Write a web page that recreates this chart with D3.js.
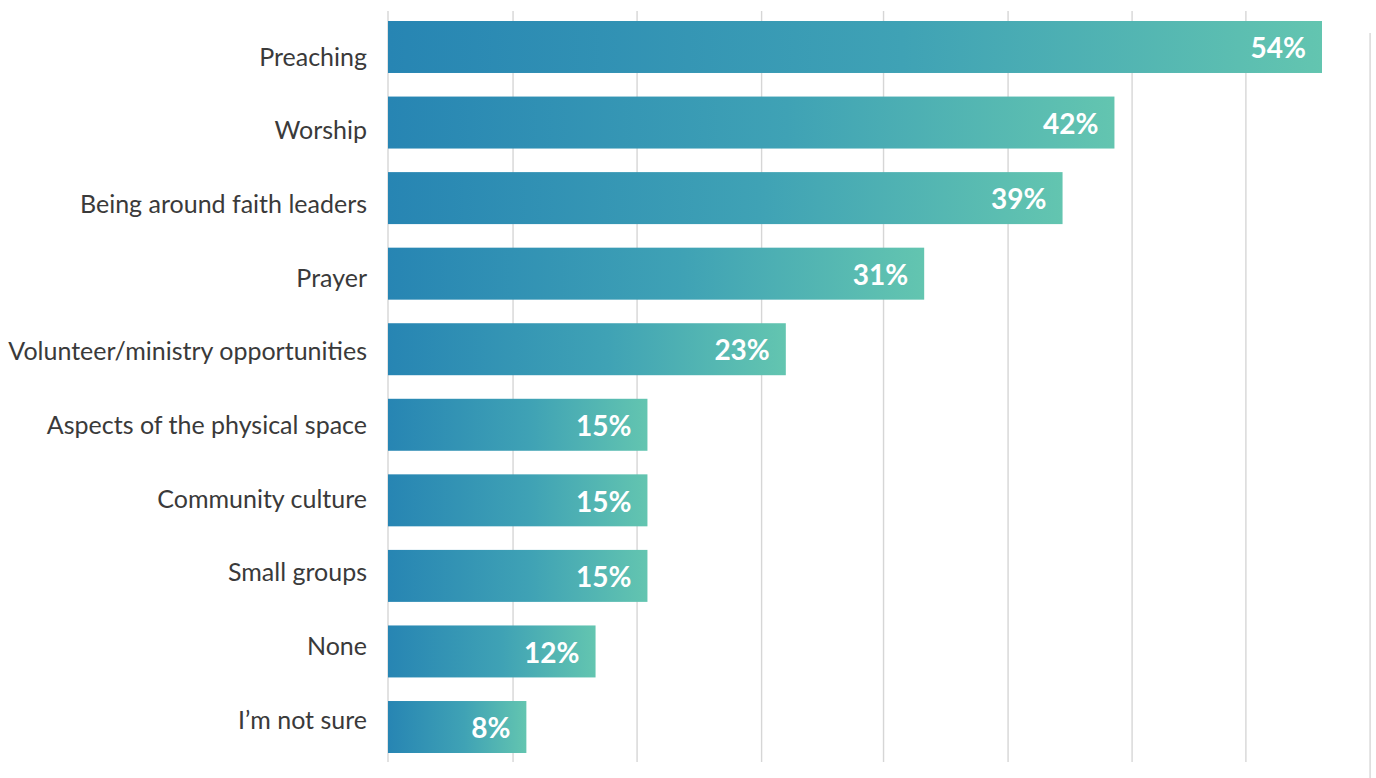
<!DOCTYPE html>
<html>
<head>
<meta charset="utf-8">
<script src="https://cdn.jsdelivr.net/npm/d3@7/dist/d3.min.js"></script>
<style>
  html, body { margin: 0; padding: 0; background: #ffffff; }
  svg { display: block; }
</style>
</head>
<body>
<svg id="chart" width="1376" height="778"></svg>
<script>
// Survey responses, share of respondents (%)
const categories = [
  "Preaching",
  "Worship",
  "Being around faith leaders",
  "Prayer",
  "Volunteer/ministry opportunities",
  "Aspects of the physical space",
  "Community culture",
  "Small groups",
  "None",
  "I\u2019m not sure"
];
const values = [54, 42, 39, 31, 23, 15, 15, 15, 12, 8];
// Vertical gridline positions, in the same % units as the bars
const gridValues = [0, 7.23, 14.4, 21.6, 28.65, 35.85, 43.02, 49.6];
const edgeGridValue = 56.78;

const svg = d3.select("#chart");

const x = d3.scaleLinear().domain([0, 54]).range([388, 1322]);

// Bars and their category labels sit on slightly different bands
const yBar = d3.scaleBand().domain(categories).range([21, 753])
  .paddingInner(0.312).paddingOuter(0);
const yLabel = d3.scaleBand().domain(categories).range([20.2, 756.8]).padding(0);

// Left-to-right fill applied to every bar
const defs = svg.append("defs");
const grad = defs.append("linearGradient")
  .attr("id", "barFill")
  .attr("x1", 0).attr("y1", 0).attr("x2", 1).attr("y2", 0);
grad.append("stop").attr("offset", "0%").attr("stop-color", "#2785b3");
grad.append("stop").attr("offset", "55%").attr("stop-color", "#3fa2b5");
grad.append("stop").attr("offset", "100%").attr("stop-color", "#63c5b0");

// Gridlines
svg.append("g").selectAll("line")
  .data(gridValues)
  .join("line")
  .attr("x1", d => x(d)).attr("x2", d => x(d))
  .attr("y1", 11).attr("y2", 762)
  .attr("stroke", "#d6d6d6")
  .attr("stroke-width", 1.4);

svg.append("line")
  .attr("x1", x(edgeGridValue)).attr("x2", x(edgeGridValue))
  .attr("y1", 33).attr("y2", 778)
  .attr("stroke", "#d6d6d6")
  .attr("stroke-width", 1.4);

// Bars
svg.append("g").selectAll("rect")
  .data(values)
  .join("rect")
  .attr("x", x(0))
  .attr("y", (d, i) => yBar(categories[i]))
  .attr("width", d => x(d) - x(0))
  .attr("height", yBar.bandwidth())
  .attr("fill", "url(#barFill)");

// Value labels inside bar ends
svg.append("g").selectAll("text")
  .data(values)
  .join("text")
  .attr("x", d => x(d) - 16)
  .attr("y", (d, i) => yBar(categories[i]) + yBar.bandwidth() / 2)
  .attr("dy", "0.4em")
  .attr("text-anchor", "end")
  .attr("fill", "#ffffff")
  .attr("font-family", "Lato, 'Open Sans', sans-serif")
  .attr("font-weight", 700)
  .attr("font-size", 28)
  .text(d => d + "%");

// Category labels
svg.append("g").selectAll("text")
  .data(categories)
  .join("text")
  .attr("x", 367)
  .attr("y", d => yLabel(d) + yLabel.bandwidth() / 2)
  .attr("dy", "0.35em")
  .attr("text-anchor", "end")
  .attr("fill", "#3a3a3a")
  .attr("font-family", "Lato, 'Open Sans', sans-serif")
  .attr("font-size", 25)
  .text(d => d);
</script>
</body>
</html>
